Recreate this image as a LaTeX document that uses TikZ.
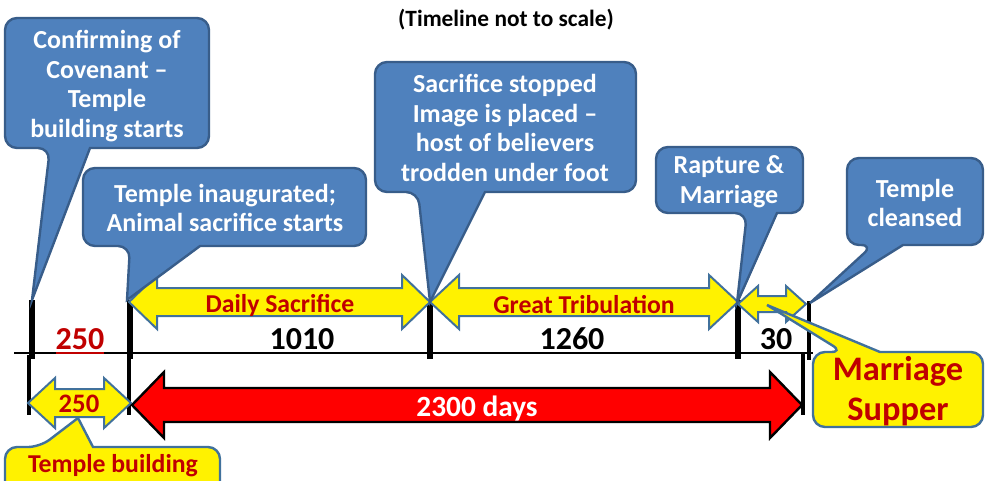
\documentclass[tikz,border=0pt]{standalone}
\usepackage{fontspec}
\setmainfont{Carlito}
\definecolor{calloutblue}{HTML}{4F81BD}
\definecolor{calloutedge}{HTML}{385D8A}
\definecolor{arrowedge}{HTML}{41719C}
\definecolor{darkred}{HTML}{C00000}
% double arrow: style, xL, xR, yc, shaft half, head half, head length
\newcommand{\dblarrow}[7]{%
  \draw[#1] (#2,#4) -- ({#2+#7},{#4-#6}) -- ({#2+#7},{#4-#5}) -- ({#3-#7},{#4-#5})
    -- ({#3-#7},{#4-#6}) -- (#3,#4) -- ({#3-#7},{#4+#6}) -- ({#3-#7},{#4+#5})
    -- ({#2+#7},{#4+#5}) -- ({#2+#7},{#4+#6}) -- cycle;}
% callout: style, L, R, tail edge y, other edge y, tail base x1, tail base x2, tip x, tip y
\newcommand{\balloonpath}[9]{%
  \draw[#1] (#8,#9) -- (#7,#4) [rounded corners=9pt] -- (#3,#4) -- (#3,#5)
    -- (#2,#5) -- (#2,#4) -- (#6,#4) [sharp corners] -- cycle;}
\tikzset{
  bluecall/.style={fill=calloutblue, draw=calloutedge, line width=1.8pt, line join=miter},
  yellowcall/.style={fill=yellow, draw=arrowedge, line width=1.8pt, line join=miter},
  yellowarrow/.style={fill=yellow, draw=arrowedge, line width=1.5pt, line join=miter},
  redarrow/.style={fill=red, draw=black, line width=1.8pt, line join=miter},
  ticktop/.style={line width=4.5pt, black},
  tickthin/.style={line width=3pt, black},
  axis/.style={line width=2.2pt, black},
  btext/.style={text=white, align=center, inner sep=0pt, font=\fontsize{19.5}{22.3}\selectfont\bfseries},
  rtext/.style={text=darkred, align=center, inner sep=0pt, font=\fontsize{19.3}{22}\selectfont\bfseries},
  numtext/.style={text=black, inner sep=0pt, font=\fontsize{24}{28}\selectfont\bfseries},
}
\begin{document}
\begin{tikzpicture}[x=0.75pt,y=-0.75pt]
\useasboundingbox (0,0) rectangle (985,480);
\clip (0,0) rectangle (985,480);
% title
\node[inner sep=0pt, font=\fontsize{17.5}{20}\selectfont\bfseries] (title) at (506,20) {(Timeline not to scale)};
% main axis
\draw[axis] (14,353) -- (813,353);
\draw[line width=2.2pt, darkred] (56,353) -- (104,353);
% ticks
\draw[ticktop] (32,300) -- (32,359);
\draw[ticktop] (130,300) -- (130,359);
\draw[ticktop] (430,300) -- (430,359);
\draw[ticktop] (738,300) -- (738,359);
\draw[tickthin] (809,301) -- (809,360);
\draw[tickthin] (29,355) -- (29,415);
\draw[tickthin] (129,355) -- (129,415);
\draw[tickthin] (803,352) -- (803,415);
% numbers
\node[numtext, text=darkred] (n250) at (80,339) {250};
\node[numtext] (n1010) at (302,339) {1010};
\node[numtext] (n1260) at (572,339) {1260};
\node[numtext] (n30) at (776,339) {30};
% arrows
\dblarrow{yellowarrow}{129}{430}{302}{14}{27}{28}
\dblarrow{yellowarrow}{430}{738}{302}{14}{27}{29}
\dblarrow{yellowarrow}{738}{806}{304}{8}{18}{20}
\dblarrow{yellowarrow}{28}{131}{403}{14}{25}{27}
\dblarrow{redarrow}{132}{802}{405}{17}{33}{32}
\node[rtext] (daily) at (280,305) {Daily Sacrifice};
\node[rtext] (great) at (584,305) {Great Tribulation};
\node[rtext, font=\fontsize{20}{24}\selectfont\bfseries] (n250b) at (79,404) {250};
\node[btext, font=\fontsize{22}{26}\selectfont\bfseries] (days) at (477,409) {2300 days};
% blue callouts
\balloonpath{bluecall}{5}{209}{148}{18}{50}{90}{32}{300}
\balloonpath{bluecall}{83}{366}{246}{168}{130}{200}{127}{300}
\balloonpath{bluecall}{375}{636}{192}{62}{418}{485}{430}{302}
\balloonpath{bluecall}{656}{803}{213}{147}{747}{777}{737}{303}
\balloonpath{bluecall}{847}{983}{245}{158}{873}{903}{810}{303}
\node[btext] (confirm) at (107,86) {Confirming of\\Covenant –\\Temple\\building starts};
\node[btext] (inaug) at (225,208) {Temple inaugurated;\\Animal sacrifice starts};
\node[btext] (stopped) at (505,128) {Sacrifice stopped\\Image is placed –\\host of believers\\trodden under foot};
\node[btext] (rapture) at (729,182) {Rapture \&\\Marriage};
\node[btext] (cleansed) at (915,203) {Temple\\cleansed};
% yellow callouts
\balloonpath{yellowcall}{813}{983}{352}{427}{843}{880}{767}{305}
\balloonpath{yellowcall}{5}{220}{447}{500}{40}{93}{78}{418}
\node[rtext, font=\fontsize{25.8}{30}\selectfont\bfseries] (supper) at (898,391) {Marriage\\Supper};
\node[rtext] (tbuild) at (113,466) {Temple building};
\end{tikzpicture}
\end{document}
